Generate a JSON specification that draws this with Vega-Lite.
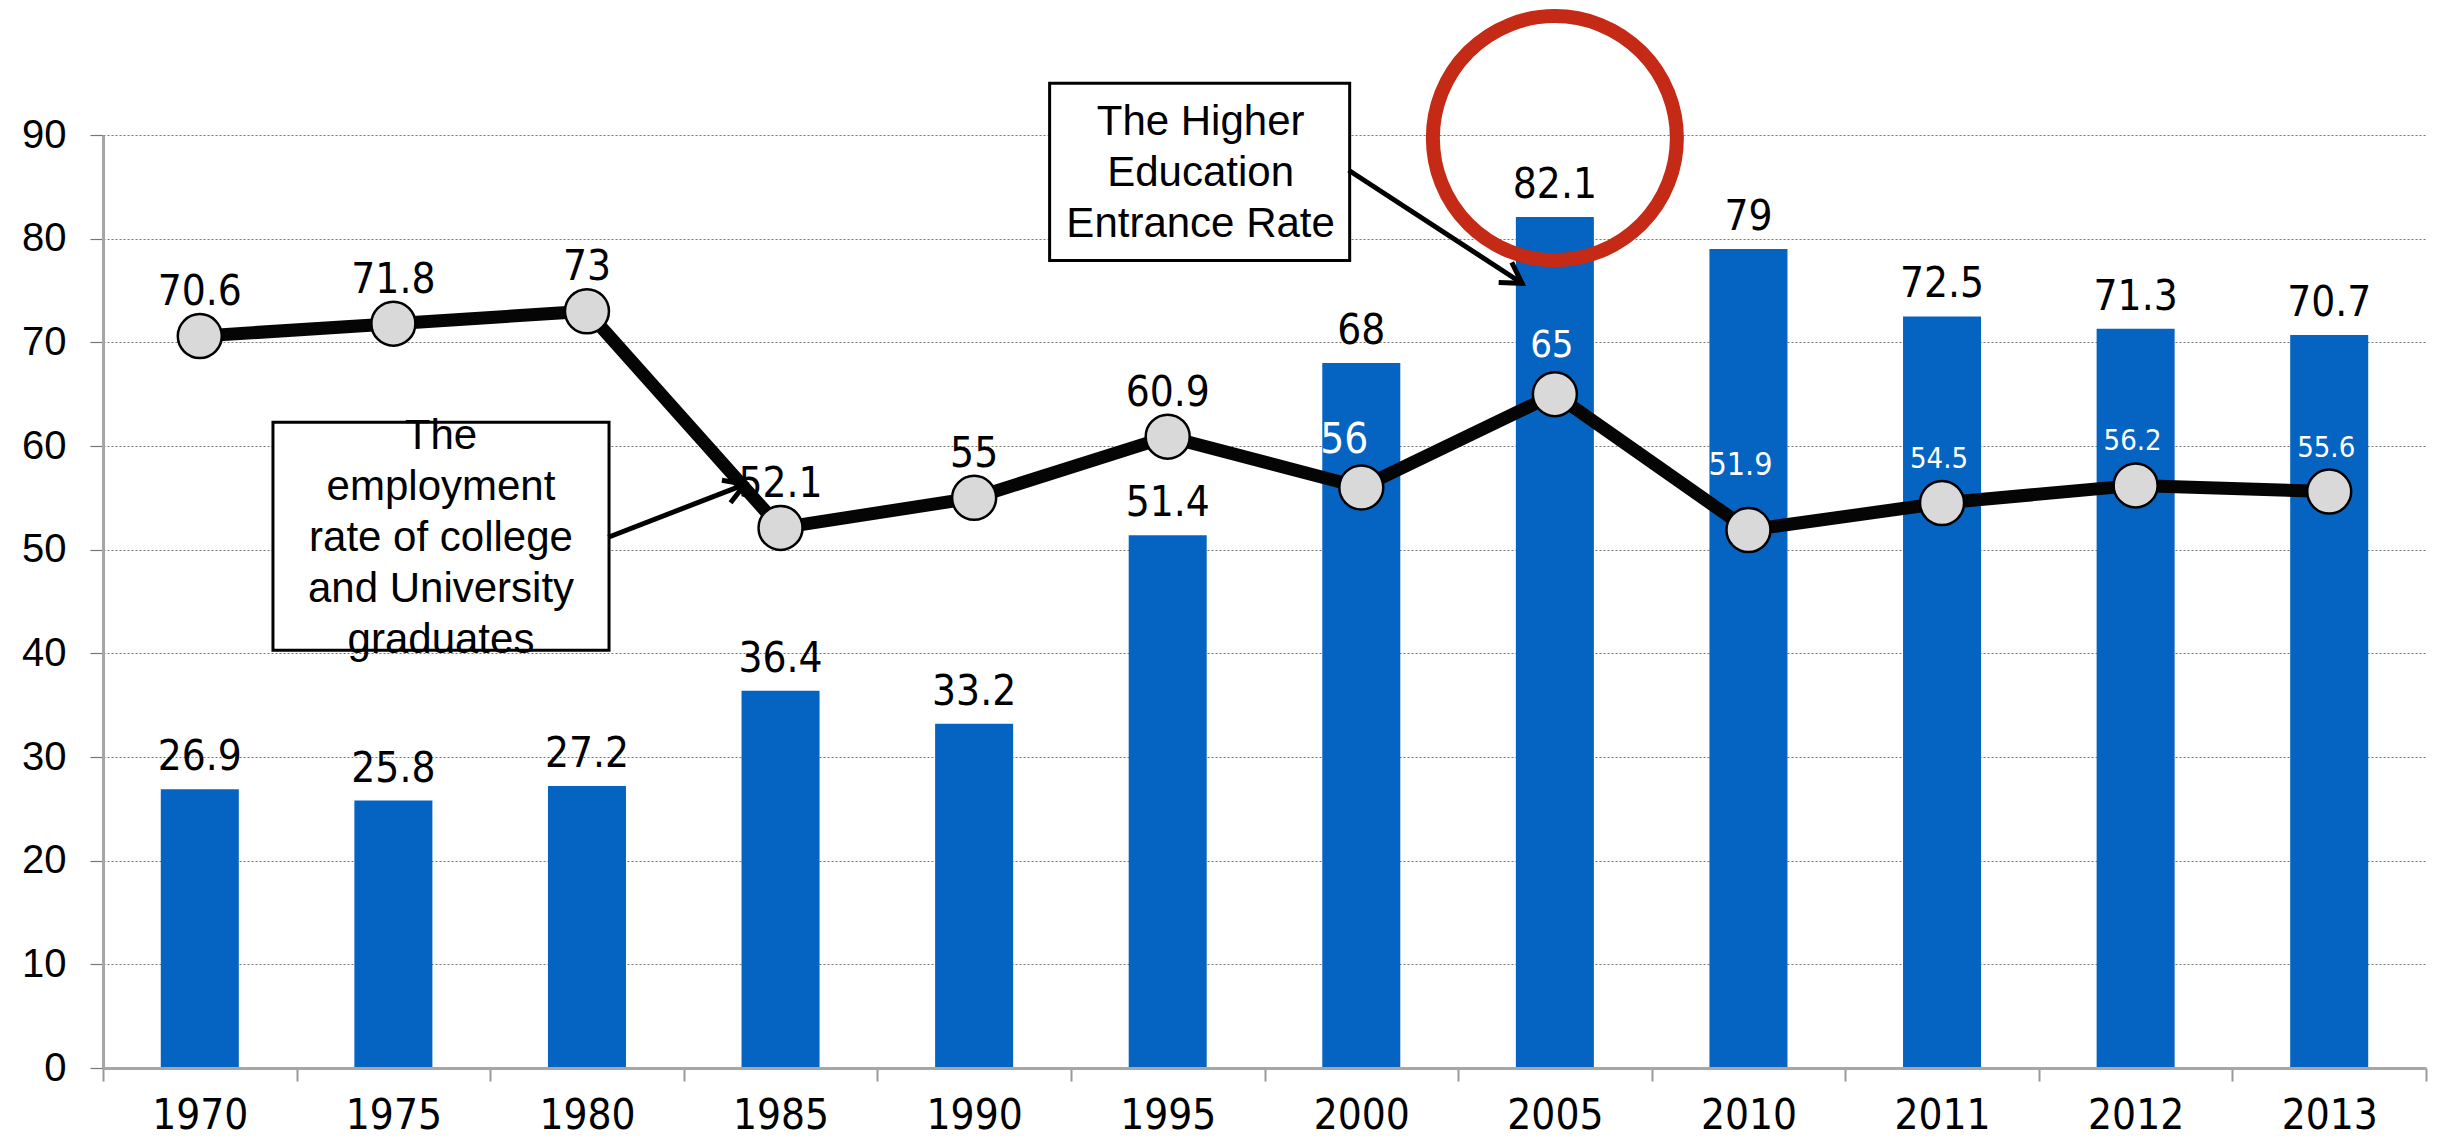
{
  "$schema": "https://vega.github.io/schema/vega-lite/v6.json",
  "autosize": {"type": "none"},
  "width": 2323,
  "height": 933,
  "padding": {"left": 103, "top": 135, "right": 12, "bottom": 74},
  "background": "white",
  "config": {"view": {"stroke": null}},
  "datasets": {
    "rates": [
      {"year": "1970", "entrance": 26.9, "employment": 70.6},
      {"year": "1975", "entrance": 25.8, "employment": 71.8},
      {"year": "1980", "entrance": 27.2, "employment": 73},
      {"year": "1985", "entrance": 36.4, "employment": 52.1},
      {"year": "1990", "entrance": 33.2, "employment": 55},
      {"year": "1995", "entrance": 51.4, "employment": 60.9},
      {"year": "2000", "entrance": 68, "employment": 56},
      {"year": "2005", "entrance": 82.1, "employment": 65},
      {"year": "2010", "entrance": 79, "employment": 51.9},
      {"year": "2011", "entrance": 72.5, "employment": 54.5},
      {"year": "2012", "entrance": 71.3, "employment": 56.2},
      {"year": "2013", "entrance": 70.7, "employment": 55.6}
    ],
    "boxes": [
      {"id": "entrance", "x1": 4.89, "x2": 6.44, "y1": 77.9, "y2": 95.0},
      {"id": "employment", "x1": 0.878, "x2": 2.614, "y1": 40.3, "y2": 62.3}
    ],
    "captions": [
      {"id": "entrance", "cx": 5.67, "cy": 90.0, "caption": "The Higher\nEducation\nEntrance Rate"},
      {"id": "employment", "cx": 1.746, "cy": 59.7, "caption": "The\nemployment\nrate of college\nand University\ngraduates"}
    ],
    "arrows": [
      {"id": "entrance", "fromX": 6.435, "fromY": 86.6, "toX": 7.33, "toY": 75.7},
      {"id": "employment", "fromX": 2.61, "fromY": 51.2, "toX": 3.316, "toY": 56.3}
    ],
    "highlight": [
      {"cx": 7.5, "cy": 89.7}
    ]
  },
  "layer": [
    {
      "data": {"name": "rates"},
      "encoding": {
        "x": {
          "field": "year",
          "type": "ordinal",
          "sort": null,
          "scale": {"paddingInner": 0, "paddingOuter": 0},
          "axis": {
            "title": null,
            "labelAngle": 0,
            "tickBand": "extent",
            "tickSize": 13,
            "tickColor": "#999999",
            "tickWidth": 2,
            "domainColor": "#a6a6a6",
            "domainWidth": 3,
            "labelFont": "DejaVu Sans Condensed, DejaVu Sans, sans-serif",
            "labelFontSize": 42,
            "labelColor": "#000000",
            "labelPadding": 14,
            "grid": false,
            "zindex": 1
          }
        }
      },
      "layer": [
        {
          "mark": {"type": "bar", "color": "#0563c1", "width": {"band": 0.403}},
          "encoding": {
            "y": {
              "field": "entrance",
              "type": "quantitative",
              "scale": {"domain": [0, 90], "nice": false},
              "axis": {
                "title": null,
                "values": [0, 10, 20, 30, 40, 50, 60, 70, 80, 90],
                "grid": true,
                "gridColor": "#777777",
                "gridDash": [2, 2],
                "gridWidth": 1.2,
                "domainColor": "#a6a6a6",
                "domainWidth": 3,
                "tickColor": "#777777",
                "tickSize": 13,
                "tickWidth": 1.2,
                "labelFont": "Liberation Sans, Arial, sans-serif",
                "labelFontSize": 40,
                "labelColor": "#000000",
                "labelPadding": 24
              }
            }
          }
        },
        {
          "mark": {"type": "text", "baseline": "alphabetic", "dy": -19, "font": "DejaVu Sans Condensed, DejaVu Sans, sans-serif", "fontSize": 42, "color": "#000000"},
          "encoding": {
            "y": {"field": "entrance", "type": "quantitative", "scale": {"domain": [0, 90], "nice": false}},
            "text": {"field": "entrance", "type": "nominal"}
          }
        },
        {
          "mark": {"type": "line", "color": "#050505", "strokeWidth": 13, "strokeJoin": "miter"},
          "encoding": {
            "y": {"field": "employment", "type": "quantitative", "scale": {"domain": [0, 90], "nice": false}}
          }
        },
        {
          "mark": {"type": "point", "shape": "circle", "filled": true, "fill": "#d9d9d9", "stroke": "#000000", "strokeWidth": 2.5, "size": 1936, "opacity": 1},
          "encoding": {
            "y": {"field": "employment", "type": "quantitative", "scale": {"domain": [0, 90], "nice": false}}
          }
        },
        {
          "transform": [{"filter": {"field": "year", "oneOf": ["1970", "1975", "1980", "1985", "1990", "1995"]}}],
          "mark": {"type": "text", "baseline": "alphabetic", "dy": -31, "font": "DejaVu Sans Condensed, DejaVu Sans, sans-serif", "fontSize": 42, "color": "#000000"},
          "encoding": {
            "y": {"field": "employment", "type": "quantitative", "scale": {"domain": [0, 90], "nice": false}},
            "text": {"field": "employment", "type": "nominal"}
          }
        },
        {
          "transform": [{"filter": {"field": "year", "equal": "2000"}}],
          "mark": {"type": "text", "baseline": "alphabetic", "dx": -17, "dy": -34, "font": "DejaVu Sans Condensed, DejaVu Sans, sans-serif", "fontSize": 42, "color": "#ffffff"},
          "encoding": {
            "y": {"field": "employment", "type": "quantitative", "scale": {"domain": [0, 90], "nice": false}},
            "text": {"field": "employment", "type": "nominal"}
          }
        },
        {
          "transform": [{"filter": {"field": "year", "equal": "2005"}}],
          "mark": {"type": "text", "baseline": "alphabetic", "dx": -3, "dy": -37, "font": "DejaVu Sans Condensed, DejaVu Sans, sans-serif", "fontSize": 38, "color": "#ffffff"},
          "encoding": {
            "y": {"field": "employment", "type": "quantitative", "scale": {"domain": [0, 90], "nice": false}},
            "text": {"field": "employment", "type": "nominal"}
          }
        },
        {
          "transform": [{"filter": {"field": "year", "equal": "2010"}}],
          "mark": {"type": "text", "baseline": "alphabetic", "dx": -8, "dy": -55, "font": "DejaVu Sans Condensed, DejaVu Sans, sans-serif", "fontSize": 32, "color": "#ffffff"},
          "encoding": {
            "y": {"field": "employment", "type": "quantitative", "scale": {"domain": [0, 90], "nice": false}},
            "text": {"field": "employment", "type": "nominal"}
          }
        },
        {
          "transform": [{"filter": {"field": "year", "oneOf": ["2011", "2012", "2013"]}}],
          "mark": {"type": "text", "baseline": "alphabetic", "dx": -3, "dy": -35, "font": "DejaVu Sans Condensed, DejaVu Sans, sans-serif", "fontSize": 29, "color": "#ffffff"},
          "encoding": {
            "y": {"field": "employment", "type": "quantitative", "scale": {"domain": [0, 90], "nice": false}},
            "text": {"field": "employment", "type": "nominal"}
          }
        }
      ]
    },
    {
      "layer": [
        {
          "data": {"name": "boxes"},
          "mark": {"type": "rect", "fill": "#ffffff", "stroke": "#000000", "strokeWidth": 3},
          "encoding": {
            "x": {"field": "x1", "type": "quantitative", "scale": {"domain": [0, 12], "nice": false, "zero": false}, "axis": null},
            "x2": {"field": "x2"},
            "y": {"field": "y1", "type": "quantitative", "scale": {"domain": [0, 90], "nice": false}, "axis": null},
            "y2": {"field": "y2"}
          }
        },
        {
          "data": {"name": "captions"},
          "mark": {"type": "text", "align": "center", "baseline": "alphabetic", "lineBreak": "\n", "lineHeight": 51, "font": "Liberation Sans, Arial, sans-serif", "fontSize": 42, "color": "#000000"},
          "encoding": {
            "x": {"field": "cx", "type": "quantitative", "scale": {"domain": [0, 12], "nice": false, "zero": false}, "axis": null},
            "y": {"field": "cy", "type": "quantitative", "scale": {"domain": [0, 90], "nice": false}, "axis": null},
            "text": {"field": "caption", "type": "nominal"}
          }
        },
        {
          "data": {"name": "arrows"},
          "mark": {"type": "rule", "color": "#000000", "strokeWidth": 5},
          "encoding": {
            "x": {"field": "fromX", "type": "quantitative", "scale": {"domain": [0, 12], "nice": false, "zero": false}, "axis": null},
            "x2": {"field": "toX"},
            "y": {"field": "fromY", "type": "quantitative", "scale": {"domain": [0, 90], "nice": false}, "axis": null},
            "y2": {"field": "toY"}
          }
        },
        {
          "data": {"name": "arrows"},
          "transform": [{"filter": {"field": "id", "equal": "entrance"}}],
          "mark": {"type": "point", "shape": "M -1 -0.6 L 0 0 L -1 0.6", "filled": false, "stroke": "#000000", "strokeWidth": 5, "size": 1600, "angle": 33, "opacity": 1, "strokeJoin": "miter"},
          "encoding": {
            "x": {"field": "toX", "type": "quantitative", "scale": {"domain": [0, 12], "nice": false, "zero": false}, "axis": null},
            "y": {"field": "toY", "type": "quantitative", "scale": {"domain": [0, 90], "nice": false}, "axis": null}
          }
        },
        {
          "data": {"name": "arrows"},
          "transform": [{"filter": {"field": "id", "equal": "employment"}}],
          "mark": {"type": "point", "shape": "M -1 -0.6 L 0 0 L -1 0.6", "filled": false, "stroke": "#000000", "strokeWidth": 5, "size": 1600, "angle": 339, "opacity": 1, "strokeJoin": "miter"},
          "encoding": {
            "x": {"field": "toX", "type": "quantitative", "scale": {"domain": [0, 12], "nice": false, "zero": false}, "axis": null},
            "y": {"field": "toY", "type": "quantitative", "scale": {"domain": [0, 90], "nice": false}, "axis": null}
          }
        },
        {
          "data": {"name": "highlight"},
          "mark": {"type": "point", "shape": "circle", "filled": false, "stroke": "#c42a16", "strokeWidth": 14, "size": 59536, "opacity": 1},
          "encoding": {
            "x": {"field": "cx", "type": "quantitative", "scale": {"domain": [0, 12], "nice": false, "zero": false}, "axis": null},
            "y": {"field": "cy", "type": "quantitative", "scale": {"domain": [0, 90], "nice": false}, "axis": null}
          }
        }
      ]
    }
  ],
  "resolve": {"scale": {"x": "independent", "y": "independent"}}
}
